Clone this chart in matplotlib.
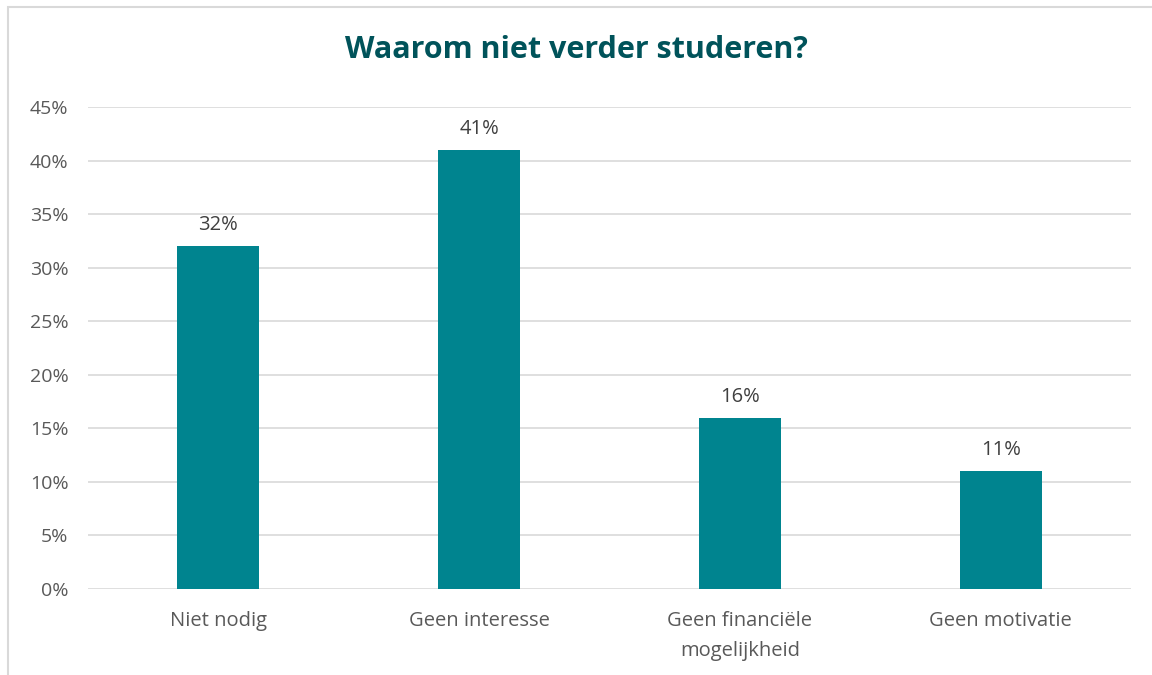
import matplotlib
matplotlib.use("Agg")
import matplotlib.pyplot as plt
from matplotlib.patches import Rectangle
from matplotlib.ticker import FuncFormatter, MultipleLocator

categories = ["Niet nodig", "Geen interesse", "Geen financiële\nmogelijkheid", "Geen motivatie"]
values = [32, 41, 16, 11]
title = "Waarom niet verder studeren?"

W, H = 1152, 675
fig = plt.figure(figsize=(W / 100, H / 100), dpi=100)
plt.rcParams['font.family'] = ['Open Sans', 'DejaVu Sans']

# outer border
fig.add_artist(Rectangle((8 / W, -0.01), 1.5, 1 - 7 / H + 0.01, transform=fig.transFigure,
                         fill=False, edgecolor='#d9d9d9', linewidth=1.5))

left, right, bottom, top = 88, 1131, 589, 107
ax = fig.add_axes([left / W, 1 - bottom / H, (right - left) / W, (bottom - top) / H])

x = range(len(categories))
bars = ax.bar(x, values, width=0.315, color='#00848f', zorder=3)
ax.set_xlim(-0.5, len(categories) - 0.5)
ax.set_ylim(0, 45)
ax.yaxis.set_major_locator(MultipleLocator(5))
ax.yaxis.set_major_formatter(FuncFormatter(lambda v, p: f"{int(round(v))}%"))
ax.grid(axis='y', color='#d9d9d9', linewidth=1.2, zorder=0)
for s in ax.spines.values():
    s.set_visible(False)
ax.tick_params(axis='both', length=0, colors='#595959')
ax.tick_params(axis='y', pad=14, labelsize=14)
ax.tick_params(axis='x', pad=16, labelsize=14.5)
ax.set_xticks(list(x))
ax.set_xticklabels(categories, linespacing=1.65)

for i, v in enumerate(values):
    ax.annotate(f"{v}%", (i, v), xytext=(0, 8), textcoords='offset points',
                ha='center', va='bottom', fontsize=14.5, color='#404040')

fig.text(0.5, 1 - 50 / H, title, ha='center', va='center', fontsize=22,
         fontweight='bold', color='#00535a')

fig.savefig("out.png", dpi=100)
